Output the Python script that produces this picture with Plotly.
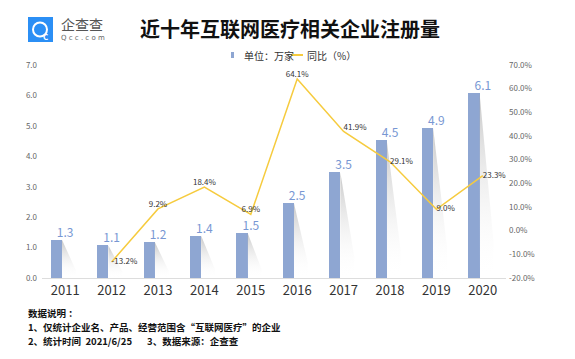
import plotly.graph_objects as go

years = ["2011", "2012", "2013", "2014", "2015", "2016", "2017", "2018", "2019", "2020"]
registrations = [1.26, 1.07, 1.18, 1.39, 1.49, 2.46, 3.47, 4.52, 4.93, 6.08]
yoy_years = ["2012", "2013", "2014", "2015", "2016", "2017", "2018", "2019", "2020"]
yoy_pct = [-13.2, 9.2, 18.4, 6.9, 64.1, 41.9, 29.1, 9.0, 23.3]
yoy_label_pos = ["middle right", "top center", "top center", "top center", "top center",
                 "top right", "middle right", "middle right", "middle right"]
left_ticks = [0, 1, 2, 3, 4, 5, 6, 7]
right_ticks = [-20, -10, 0, 10, 20, 30, 40, 50, 60, 70]
series_names = ["单位：万家", "同比（%）"]

FONT = "Noto Sans CJK SC"
BAR_COLOR = "#8EA6D2"
LABEL_BLUE = "#7897D3"
LINE_COLOR = "#F6CB3E"

idx = list(range(len(years)))
yoy_idx = [years.index(y) for y in yoy_years]

BAR_W = 0.24
BAR_OFF = -0.31

# page body has an 8px margin; figure is sized to fill the rest of the window
O = 8
W, H = 575 - O, 359 - O
# plot area in page pixels
L, R, T, B = 42, 506, 65, 278
PW, PH = R - L, B - T


def px(xp):
    return (xp - L) / PW


def py(yp):
    return (B - yp) / PH


fig = go.Figure()

# soft shadows to the right of each bar
for i, v in zip(idx, registrations):
    xr = i + BAR_OFF + BAR_W
    fig.add_trace(go.Scatter(
        x=[xr, xr + 0.3, xr + 0.3, xr, xr],
        y=[v, 0.2 * v, 0, 0, v],
        mode="lines", line=dict(width=0), fill="toself",
        fillgradient=dict(type="vertical",
                          colorscale=[[0, "rgba(255,255,255,0)"],
                                      [1, "rgba(160,160,160,0.6)"]]),
        hoverinfo="skip", showlegend=False))

fig.add_trace(go.Bar(
    x=idx, y=registrations, name=series_names[0],
    width=BAR_W, offset=BAR_OFF,
    marker=dict(color=BAR_COLOR, line=dict(width=0)),
    showlegend=False))

# bar value labels centred on category
fig.add_trace(go.Scatter(
    x=idx, y=registrations, mode="text",
    text=[f"{v:.1f}" for v in registrations],
    textposition="top center",
    textfont=dict(size=12, color=LABEL_BLUE, family=FONT),
    hoverinfo="skip", showlegend=False))

fig.add_trace(go.Scatter(
    x=yoy_idx, y=yoy_pct, name=series_names[1], yaxis="y2",
    mode="lines+text",
    line=dict(color=LINE_COLOR, width=1.5),
    text=[f"{v:.1f}%" for v in yoy_pct],
    textposition=yoy_label_pos,
    textfont=dict(size=8, color="#333333", family=FONT),
    showlegend=False))

fig.update_layout(
    width=W, height=H,
    margin=dict(l=L - O, r=575 - R, t=T - O, b=359 - B, autoexpand=False),
    paper_bgcolor="white", plot_bgcolor="white",
    font=dict(family=FONT, color="#333333"),
    title=dict(text="<b>近十年互联网医疗相关企业注册量</b>",
               x=(290 - O) / W, xanchor="center", y=1 - (30 - O) / H, yanchor="middle",
               font=dict(size=20, color="#111111", family=FONT)),
    xaxis=dict(range=[-0.5, 9.5], tickvals=idx, ticktext=years,
               tickfont=dict(size=13, color="#333333"),
               showline=True, linecolor="#dddddd", linewidth=1,
               showgrid=False, zeroline=False, ticks=""),
    yaxis=dict(range=[0, 7], tickvals=left_ticks, tickformat=".1f",
               tickfont=dict(size=8, color="#666666"),
               showgrid=False, zeroline=False, showline=False, ticks="",
               ticklabelstandoff=4),
    yaxis2=dict(range=[-20, 70], tickvals=right_ticks,
                ticktext=[f"{t:.1f}%" for t in right_ticks],
                overlaying="y", side="right",
                tickfont=dict(size=8, color="#666666"),
                showgrid=False, zeroline=False, showline=False, ticks="",
                ticklabelstandoff=2),
    showlegend=False,
    bargap=0,
)

# compact legend
fig.add_shape(type="rect", xref="paper", yref="paper",
              x0=px(231), x1=px(234), y0=py(58), y1=py(52),
              fillcolor=BAR_COLOR, line=dict(width=0))
fig.add_annotation(text=series_names[0], xref="paper", yref="paper",
                   x=px(242), y=py(55), xanchor="left", yanchor="middle", showarrow=False,
                   font=dict(size=10, color="#333333", family=FONT))
fig.add_shape(type="line", xref="paper", yref="paper",
              x0=px(291), x1=px(303), y0=py(55), y1=py(55),
              line=dict(color=LINE_COLOR, width=2))
fig.add_annotation(text=series_names[1], xref="paper", yref="paper",
                   x=px(305), y=py(55), xanchor="left", yanchor="middle", showarrow=False,
                   font=dict(size=10, color="#333333", family=FONT))

# logo
fig.add_shape(type="rect", xref="paper", yref="paper",
              x0=px(28), x1=px(53), y0=py(42), y1=py(17),
              fillcolor="#2B8FF5", line=dict(width=0), layer="above")
fig.add_shape(type="circle", xref="paper", yref="paper",
              x0=px(33), x1=px(47), y0=py(36.5), y1=py(22.5),
              fillcolor="rgba(0,0,0,0)", line=dict(color="white", width=2))
fig.add_annotation(text="<b>C</b>", xref="paper", yref="paper",
                   x=px(40.5), y=py(29.5), showarrow=False,
                   font=dict(size=8, color="white", family=FONT))
fig.add_annotation(text="企查查", xref="paper", yref="paper",
                   x=px(59), y=py(24), xanchor="left", yanchor="middle",
                   showarrow=False, font=dict(size=14, color="#555555", family=FONT))
fig.add_annotation(text="Q c c . c o m", xref="paper", yref="paper",
                   x=px(59), y=py(38), xanchor="left", yanchor="middle",
                   showarrow=False, font=dict(size=7, color="#666666", family="DejaVu Sans"))

# footnote
notes = ["<b>数据说明 ：</b>",
         "<b>1、仅统计企业名、产品、经营范围含“互联网医疗”的企业</b>",
         "<b>2、统计时间  2021/6/25       3、数据来源：企查查</b>"]
for k, t in enumerate(notes):
    fig.add_annotation(text=t, xref="paper", yref="paper",
                       x=px(26), y=py(313 + 14 * k),
                       xanchor="left", yanchor="middle", showarrow=False,
                       font=dict(size=9.5, color="#111111", family=FONT))

fig.write_html("out.html")
